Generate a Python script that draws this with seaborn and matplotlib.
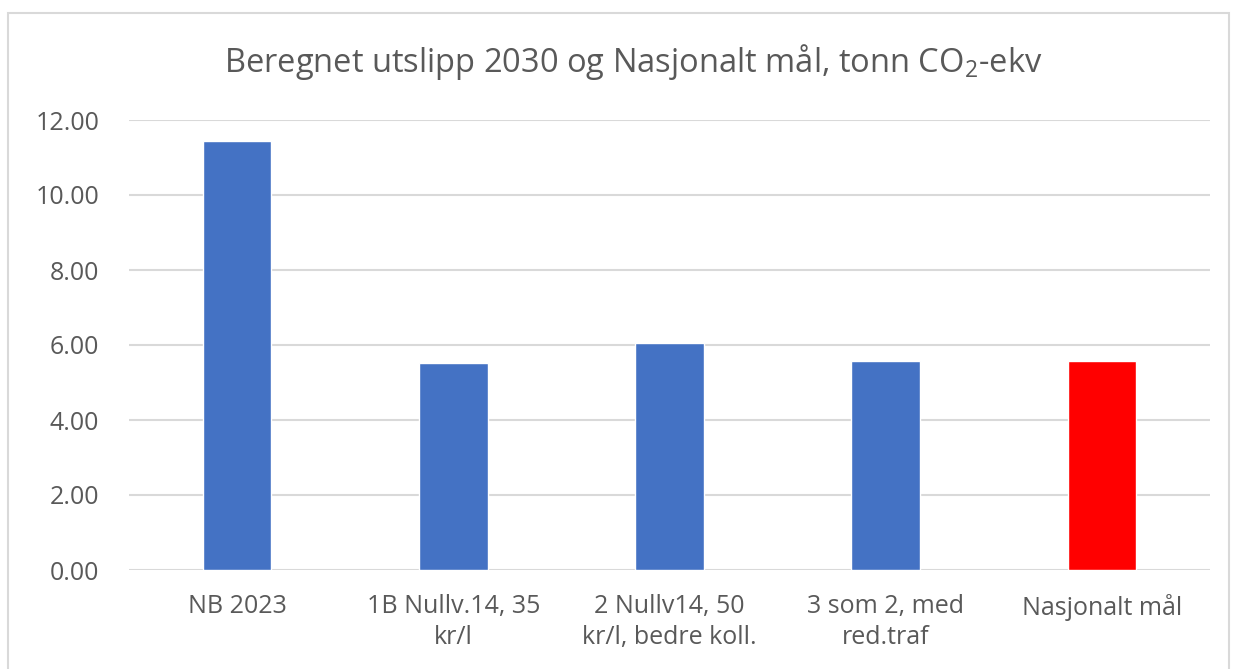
import pandas as pd
import seaborn as sns
import matplotlib.pyplot as plt
from matplotlib.patches import Rectangle

# Data
scenarios = ["NB 2023", "1B Nullv.14, 35\nkr/l", "2 Nullv14, 50\nkr/l, bedre koll.",
             "3 som 2, med\nred.traf", "Nasjonalt mål"]
utslipp = [11.45, 5.51, 6.05, 5.58, 5.58]
bar_colors = ["#4472C4", "#4472C4", "#4472C4", "#4472C4", "#FF0000"]
yticks = [0, 2, 4, 6, 8, 10, 12]

df = pd.DataFrame({"scenario": scenarios, "utslipp": utslipp})

sns.set_theme(style="white")
plt.rcParams["font.family"] = ["Open Sans", "DejaVu Sans"]
plt.rcParams["mathtext.fontset"] = "custom"
plt.rcParams["mathtext.rm"] = "Open Sans"

grey = "#595959"

fig = plt.figure(figsize=(12.37, 6.69), dpi=100)
ax = fig.add_axes([129 / 1237, 99 / 669, 1081 / 1237, 450 / 669])

sns.barplot(data=df, x="scenario", y="utslipp", hue="scenario",
            palette=bar_colors, legend=False, width=0.317, saturation=1, ax=ax, zorder=3)

ax.set_ylim(0, 12)
ax.set_yticks(yticks)
ax.set_yticklabels([f"{v:.2f}" for v in yticks])
ax.set_xlim(-0.5, 4.5)
ax.yaxis.grid(True, color="#D9D9D9", linewidth=1.5, zorder=0)
ax.set_axisbelow(True)
for s in ax.spines.values():
    s.set_visible(False)
ax.set_xlabel("")
ax.set_ylabel("")
ax.tick_params(axis="y", length=0, pad=21.5, labelsize=18, labelcolor=grey)
ax.tick_params(axis="x", length=0, pad=17, labelsize=18, labelcolor=grey)
for lab in ax.get_xticklabels():
    lab.set_linespacing(1.35)

fig.text(633 / 1237, 1 - 72 / 669,
         r"Beregnet utslipp 2030 og Nasjonalt mål, tonn CO$_\mathregular{2}$-ekv",
         ha="center", va="baseline", fontsize=23.5, color=grey)

# outer chart border
fig.patches.append(Rectangle((8 / 1237, -0.05), 1221 / 1237, 1.05 - 13 / 669,
                             transform=fig.transFigure, fill=False,
                             edgecolor="#D9D9D9", linewidth=1.5))

fig.savefig("out.png", dpi=100)
